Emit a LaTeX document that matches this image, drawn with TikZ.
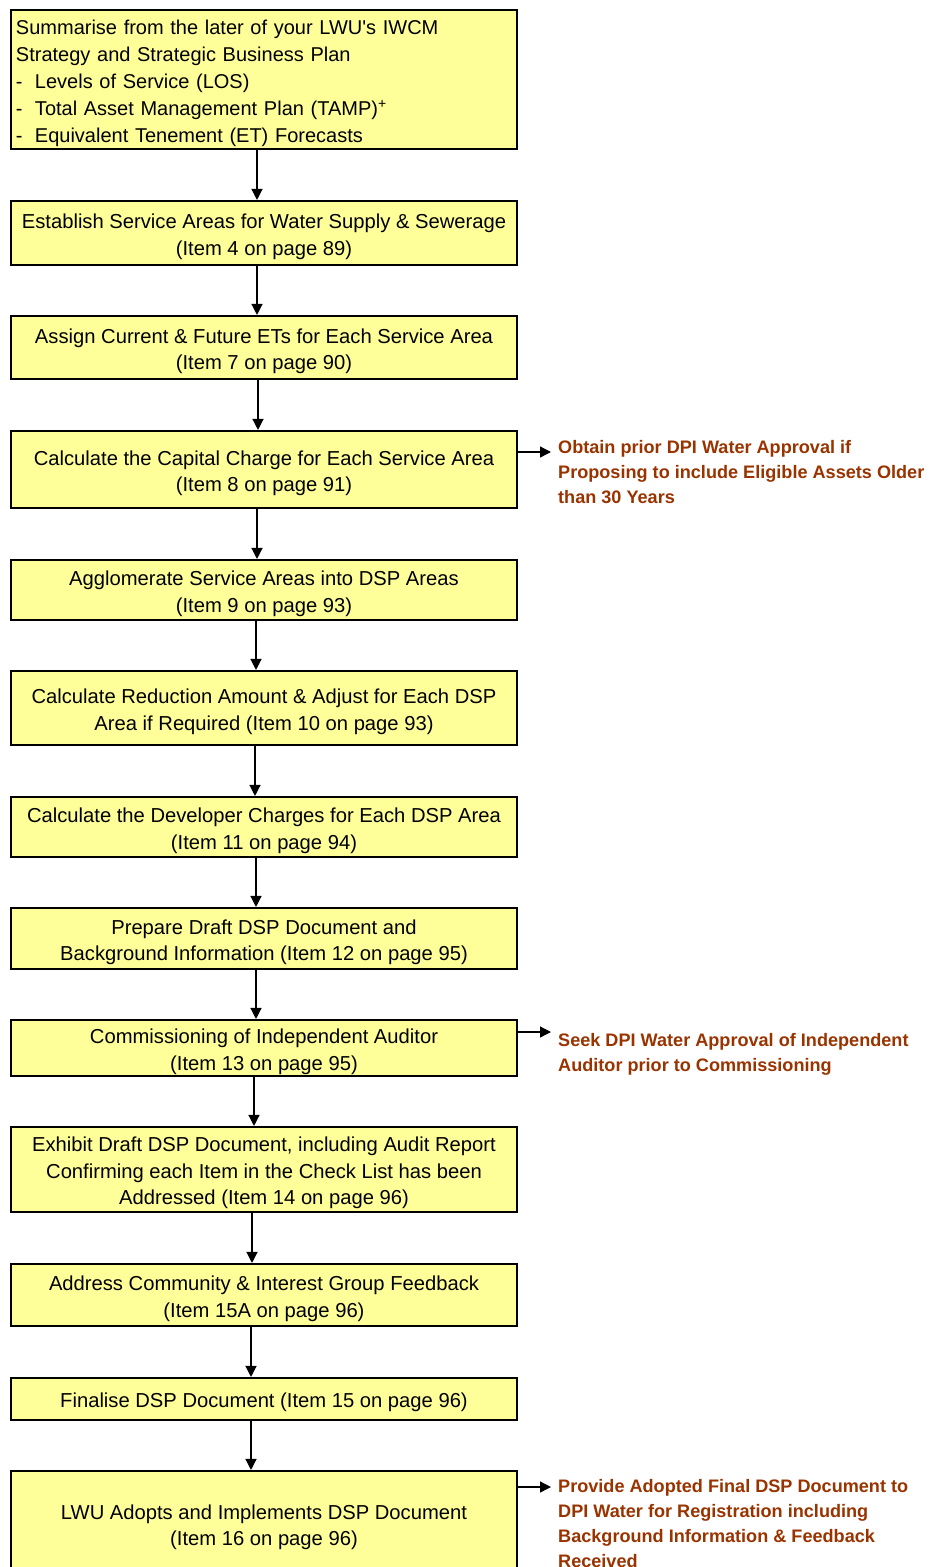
\documentclass[tikz,border=0pt]{standalone}
\usepackage{fontspec}
\setmainfont{Liberation Sans}
\usetikzlibrary{arrows.meta}
\definecolor{boxfill}{HTML}{FFFF99}
\definecolor{notecol}{HTML}{993300}
\newcommand{\topstrut}{\rule{0pt}{22pt}}
\begin{document}
\begin{tikzpicture}[x=1pt,y=-1pt,
  stepbox/.style={draw=black, line width=2.1pt, fill=boxfill, minimum width=506pt,
    inner xsep=5pt, inner ysep=0pt, align=center,
    font=\fontsize{20.2}{26.5}\selectfont},
  arr/.style={line width=1.3pt, -{Triangle[length=11pt,width=11pt]}},
  note/.style={anchor=north west, inner sep=0pt, align=left, text=notecol,
    font=\fontsize{18.1}{25}\selectfont\bfseries}]
\useasboundingbox (0,0) rectangle (932,1567);
\clip (0,0) rectangle (932,1567);

\node[stepbox, minimum height=139pt, text width=496pt, align=left,
  font=\fontsize{20}{27.2}\selectfont] (b1) at (264,79.5)
 {\topstrut Summarise from the later of your LWU\textquotesingle s IWCM\\
  Strategy and Strategic Business Plan\\
  \makebox[19pt][l]{-}Levels of Service (LOS)\\
  \makebox[19pt][l]{-}Total Asset Management Plan (TAMP)\textsuperscript{+}\\
  \makebox[19pt][l]{-}Equivalent Tenement (ET) Forecasts};
\node[stepbox, minimum height=64pt] (b2) at (264,233)
 {\topstrut Establish Service Areas for Water Supply \& Sewerage\\(Item 4 on page 89)};
\node[stepbox, minimum height=63pt] (b3) at (264,347.5)
 {\topstrut Assign Current \& Future ETs for Each Service Area\\(Item 7 on page 90)};
\node[stepbox, minimum height=77pt] (b4) at (264,469.5)
 {\topstrut Calculate the Capital Charge for Each Service Area\\(Item 8 on page 91)};
\node[stepbox, minimum height=60pt] (b5) at (264,590)
 {\topstrut Agglomerate Service Areas into DSP Areas\\(Item 9 on page 93)};
\node[stepbox, minimum height=74pt] (b6) at (264,708)
 {\topstrut Calculate Reduction Amount \& Adjust for Each DSP\\Area if Required (Item 10 on page 93)};
\node[stepbox, minimum height=60pt] (b7) at (264,827)
 {\topstrut Calculate the Developer Charges for Each DSP Area\\(Item 11 on page 94)};
\node[stepbox, minimum height=61pt] (b8) at (264,938.5)
 {\topstrut Prepare Draft DSP Document and\\Background Information (Item 12 on page 95)};
\node[stepbox, minimum height=56pt] (b9) at (264,1048)
 {\topstrut Commissioning of Independent Auditor\\(Item 13 on page 95)};
\node[stepbox, minimum height=85pt] (b10) at (264,1169.5)
 {\topstrut Exhibit Draft DSP Document, including Audit Report\\Confirming each Item in the Check List has been\\Addressed (Item 14 on page 96)};
\node[stepbox, minimum height=62pt] (b11) at (264,1295)
 {\topstrut Address Community \& Interest Group Feedback\\(Item 15A on page 96)};
\node[stepbox, minimum height=42pt] (b12) at (264,1399)
 {\topstrut Finalise DSP Document (Item 15 on page 96)};
\node[stepbox, minimum height=105pt] (b13) at (264,1523.5)
 {\topstrut LWU Adopts and Implements DSP Document\\(Item 16 on page 96)};

\draw[arr] ([xshift=-7pt]b1.south) -- ([xshift=-7pt]b2.north);
\draw[arr] ([xshift=-7pt]b2.south) -- ([xshift=-7pt]b3.north);
\draw[arr] ([xshift=-6pt]b3.south) -- ([xshift=-6pt]b4.north);
\draw[arr] ([xshift=-7pt]b4.south) -- ([xshift=-7pt]b5.north);
\draw[arr] ([xshift=-8pt]b5.south) -- ([xshift=-8pt]b6.north);
\draw[arr] ([xshift=-9pt]b6.south) -- ([xshift=-9pt]b7.north);
\draw[arr] ([xshift=-8pt]b7.south) -- ([xshift=-8pt]b8.north);
\draw[arr] ([xshift=-8pt]b8.south) -- ([xshift=-8pt]b9.north);
\draw[arr] ([xshift=-10pt]b9.south) -- ([xshift=-10pt]b10.north);
\draw[arr] ([xshift=-12pt]b10.south) -- ([xshift=-12pt]b11.north);
\draw[arr] ([xshift=-13pt]b11.south) -- ([xshift=-13pt]b12.north);
\draw[arr] ([xshift=-13pt]b12.south) -- ([xshift=-13pt]b13.north);

\coordinate (e1) at (551,452);
\coordinate (e2) at (551,1032);
\coordinate (e3) at (551,1487);
\draw[arr] (b4.east |- e1) -- (e1);
\draw[arr] (b9.east |- e2) -- (e2);
\draw[arr] (b13.east |- e3) -- (e3);

\node[note] (a1) at (558,440)
 {Obtain prior DPI Water Approval if\\Proposing to include Eligible Assets Older\\than 30 Years};
\node[note] (a2) at (558,1033)
 {Seek DPI Water Approval of Independent\\Auditor prior to Commissioning};
\node[note] (a3) at (558,1479)
 {Provide Adopted Final DSP Document to\\DPI Water for Registration including\\Background Information \& Feedback\\Received};
\end{tikzpicture}
\end{document}
